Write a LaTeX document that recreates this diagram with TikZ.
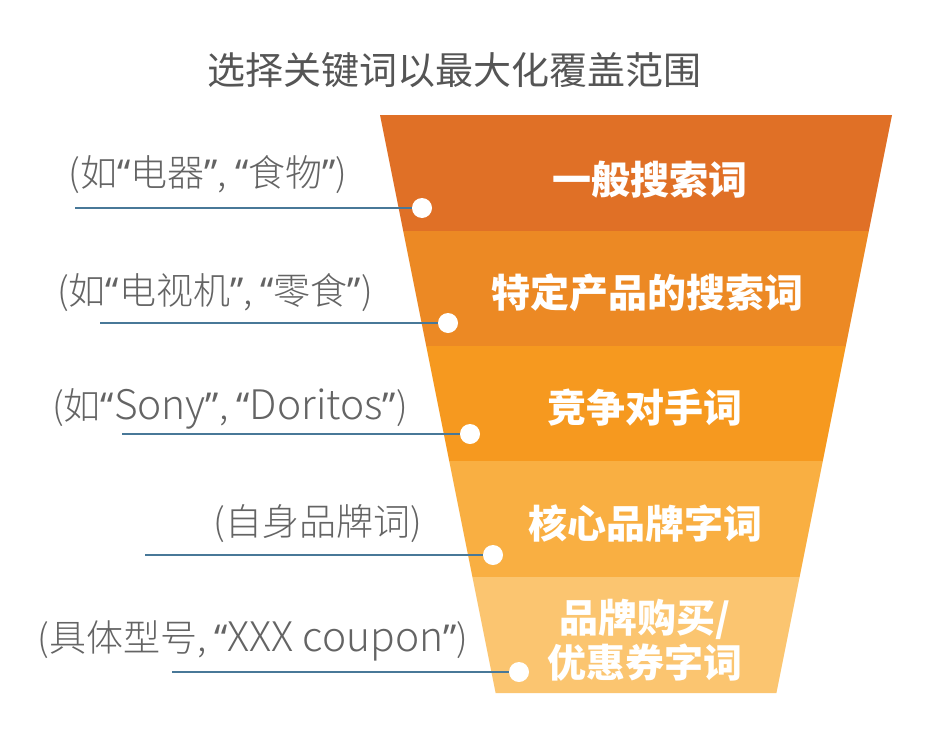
\documentclass[tikz,border=0pt]{standalone}
\usepackage{fontspec}
\setmainfont{Noto Sans CJK SC}
\newfontfamily\hintfont{Noto Sans CJK SC}[UprightFont = * Light]
\newfontfamily\latinfont{Noto Sans CJK SC}[UprightFont = * Light, Scale = 1.1]
\newfontfamily\quotefont{Noto Sans}
\usepackage{tikz}
\definecolor{band1}{RGB}{224, 112, 38}
\definecolor{band2}{RGB}{236, 137, 36}
\definecolor{band3}{RGB}{246, 153, 31}
\definecolor{band4}{RGB}{249, 175, 66}
\definecolor{band5}{RGB}{251, 197, 112}
\definecolor{leadcol}{RGB}{72, 120, 152}
\definecolor{hintcol}{RGB}{100, 100, 100}
\definecolor{titlecol}{RGB}{85, 85, 85}
\newcommand{\qopen}{{\quotefont “}}
\newcommand{\qclose}{{\quotefont ”}}
\newcommand{\lat}[1]{{\latinfont #1}}
\tikzset{
  bandtext/.style = {text = white, font = \fontsize{39}{45}\selectfont\bfseries, align = center, inner sep = 0pt},
  hint/.style = {text = hintcol, font = \hintfont\fontsize{37}{40}\selectfont, inner sep = 0pt},
  dot/.style = {circle, fill = white, minimum size = 20pt, inner sep = 0pt},
  leader/.style = {leadcol, line width = 1.4pt}
}

\begin{document}
\begin{tikzpicture}[x = 1pt, y = -1pt]

\useasboundingbox (0, 0) rectangle (950, 736);
\fill [white] (0, 0) rectangle (950, 736);

% title
\node [text = titlecol, font = \fontsize{38}{42}\selectfont, inner sep = 0pt] (title) at (454, 70) {选择关键词以最大化覆盖范围};

% funnel bands
\fill [band1] (380, 115) -- (892, 115) -- (868.8, 231) -- (403.2, 231) -- cycle;
\fill [band2] (403.2, 231) -- (868.8, 231) -- (845.8, 346) -- (426.2, 346) -- cycle;
\fill [band3] (426.2, 346) -- (845.8, 346) -- (822.8, 461) -- (449.2, 461) -- cycle;
\fill [band4] (449.2, 461) -- (822.8, 461) -- (799.6, 577) -- (472.4, 577) -- cycle;
\fill [band5] (472.4, 577) -- (799.6, 577) -- (776.4, 693) -- (495.6, 693) -- cycle;

\node [bandtext] (b1) at (650, 180) {一般搜索词};
\node [bandtext] (b2) at (647, 293) {特定产品的搜索词};
\node [bandtext] (b3) at (645, 408) {竞争对手词};
\node [bandtext] (b4) at (645, 523) {核心品牌字词};
\node [bandtext] (b5) at (645, 640) {品牌购买/\\优惠券字词};

% hints on the left
\node [hint] (h1) at (208, 175) {(如\qopen 电器\qclose, \qopen 食物\qclose)};
\node [hint] (h2) at (215, 293) {(如\qopen 电视机\qclose, \qopen 零食\qclose)};
\node [hint] (h3) at (230, 409) {(如\qopen\lat{Sony}\qclose, \qopen\lat{Doritos}\qclose)};
\node [hint] (h4) at (318, 524) {(自身品牌词)};
\node [hint] (h5) at (253, 641) {(具体型号, \qopen\lat{XXX coupon}\qclose)};

% leader lines and dots
\coordinate (s1) at (75, 208);
\coordinate (s2) at (100, 323);
\coordinate (s3) at (122, 434);
\coordinate (s4) at (145, 555);
\coordinate (s5) at (172, 672);
\node [dot] (d1) at (422, 208) {};
\node [dot] (d2) at (448, 323) {};
\node [dot] (d3) at (470, 434) {};
\node [dot] (d4) at (493, 555) {};
\node [dot] (d5) at (519, 672) {};
\draw [leader] (s1) -- (d1);
\draw [leader] (s2) -- (d2);
\draw [leader] (s3) -- (d3);
\draw [leader] (s4) -- (d4);
\draw [leader] (s5) -- (d5);

\end{tikzpicture}
\end{document}
